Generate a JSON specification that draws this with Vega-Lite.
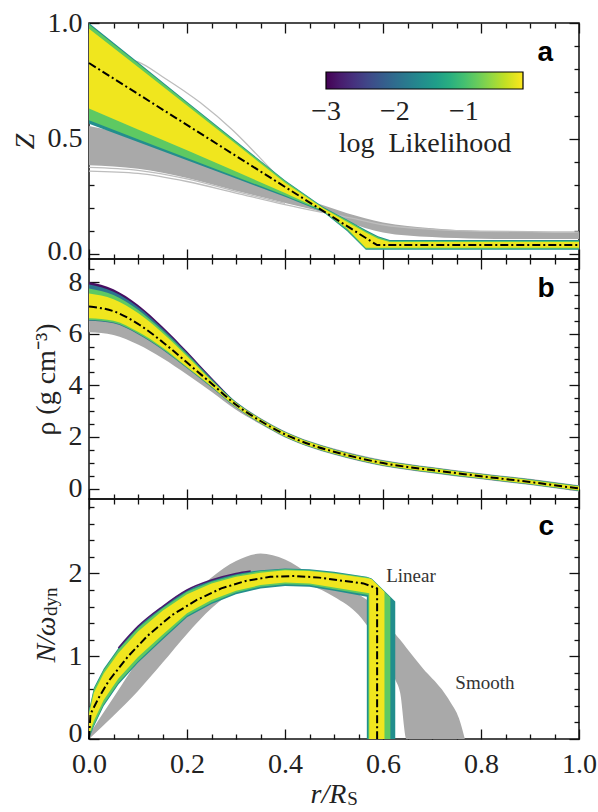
{
"$schema": "https://vega.github.io/schema/vega-lite/v6.json",
"padding": {"top": 8, "left": 10, "right": 10, "bottom": 2},
"bounds": "flush",
"spacing": 0,
"resolve": {"scale": {"color": "independent"}, "legend": {"color": "independent"}},
"config": {
  "view": {"stroke": "#111", "strokeWidth": 1.5},
  "axis": {"domain": false, "grid": false, "tickColor": "#111", "tickWidth": 1.3, "labelFont": "Liberation Serif", "labelFontSize": 28, "labelColor": "#222", "titleFont": "Liberation Serif", "titleFontSize": 28, "titleFontWeight": "normal", "titleColor": "#222", "labelFlush": false, "labelOverlap": false},
  "legend": {"labelFont": "Liberation Serif", "labelFontSize": 28, "labelColor": "#222", "titleFont": "Liberation Serif", "titleFontSize": 28, "titleFontWeight": "normal", "titleColor": "#222"}
},
"datasets": {
  "aGray": [
    {"r":0,"lo":0.385,"hi":0.555},{"r":0.1,"lo":0.37,"hi":0.505},{"r":0.2,"lo":0.33,"hi":0.435},{"r":0.3,"lo":0.275,"hi":0.355},{"r":0.4,"lo":0.222,"hi":0.27},{"r":0.478,"lo":0.18,"hi":0.212},{"r":0.527,"lo":0.14,"hi":0.178},{"r":0.6,"lo":0.095,"hi":0.138},{"r":0.7,"lo":0.075,"hi":0.113},{"r":0.8,"lo":0.068,"hi":0.101},{"r":0.9,"lo":0.066,"hi":0.097},{"r":1,"lo":0.066,"hi":0.096}
  ],
  "aLines": [
    {"k":"L1","r":0,"v":0.36},{"k":"L1","r":0.1,"v":0.35},{"k":"L1","r":0.2,"v":0.315},{"k":"L1","r":0.3,"v":0.265},{"k":"L1","r":0.4,"v":0.215},{"k":"L1","r":0.478,"v":0.18},
    {"k":"L2","r":0,"v":0.376},{"k":"L2","r":0.1,"v":0.363},{"k":"L2","r":0.2,"v":0.326},{"k":"L2","r":0.3,"v":0.272},{"k":"L2","r":0.4,"v":0.22},
    {"k":"U","r":0,"v":0.87},{"k":"U","r":0.1,"v":0.832},{"k":"U","r":0.15,"v":0.768},{"k":"U","r":0.227,"v":0.656},{"k":"U","r":0.294,"v":0.535},{"k":"U","r":0.35,"v":0.415},{"k":"U","r":0.4,"v":0.305},{"k":"U","r":0.45,"v":0.225},{"k":"U","r":0.5,"v":0.175},{"k":"U","r":0.55,"v":0.15},{"k":"U","r":0.6,"v":0.128},{"k":"U","r":0.7,"v":0.108},{"k":"U","r":0.8,"v":0.1},{"k":"U","r":1,"v":0.097}
  ],
  "aBand": [
    {"ll":-1.6,"r":0,"lo":0.565,"hi":1.0},{"ll":-1.6,"r":0.1,"lo":0.486,"hi":0.83},{"ll":-1.6,"r":0.2,"lo":0.407,"hi":0.66},{"ll":-1.6,"r":0.3,"lo":0.328,"hi":0.49},{"ll":-1.6,"r":0.4,"lo":0.249,"hi":0.32},{"ll":-1.6,"r":0.478,"lo":0.183,"hi":0.205},{"ll":-1.6,"r":0.527,"lo":0.1,"hi":0.15},{"ll":-1.6,"r":0.565,"lo":0.02,"hi":0.105},{"ll":-1.6,"r":0.59,"lo":0.02,"hi":0.078},{"ll":-1.6,"r":0.614,"lo":0.02,"hi":0.062},{"ll":-1.6,"r":1,"lo":0.02,"hi":0.062},
    {"ll":-0.85,"r":0,"lo":0.58,"hi":0.994},{"ll":-0.85,"r":0.1,"lo":0.498,"hi":0.825},{"ll":-0.85,"r":0.2,"lo":0.417,"hi":0.655},{"ll":-0.85,"r":0.3,"lo":0.336,"hi":0.486},{"ll":-0.85,"r":0.4,"lo":0.254,"hi":0.317},{"ll":-0.85,"r":0.478,"lo":0.186,"hi":0.202},{"ll":-0.85,"r":0.527,"lo":0.105,"hi":0.146},{"ll":-0.85,"r":0.565,"lo":0.024,"hi":0.1},{"ll":-0.85,"r":0.59,"lo":0.024,"hi":0.074},{"ll":-0.85,"r":0.614,"lo":0.024,"hi":0.058},{"ll":-0.85,"r":1,"lo":0.024,"hi":0.058},
    {"ll":-0.2,"r":0,"lo":0.63,"hi":0.975},{"ll":-0.2,"r":0.1,"lo":0.54,"hi":0.81},{"ll":-0.2,"r":0.2,"lo":0.45,"hi":0.643},{"ll":-0.2,"r":0.3,"lo":0.358,"hi":0.477},{"ll":-0.2,"r":0.4,"lo":0.265,"hi":0.31},{"ll":-0.2,"r":0.478,"lo":0.19,"hi":0.199},{"ll":-0.2,"r":0.527,"lo":0.112,"hi":0.14},{"ll":-0.2,"r":0.565,"lo":0.029,"hi":0.094},{"ll":-0.2,"r":0.59,"lo":0.029,"hi":0.068},{"ll":-0.2,"r":0.614,"lo":0.029,"hi":0.053},{"ll":-0.2,"r":1,"lo":0.029,"hi":0.053}
  ],
  "aMed": [{"r":0,"v":0.827},{"r":0.588,"v":0.04},{"r":1,"v":0.04}],
  "bGray": [
    {"r":0,"lo":6.05,"hi":6.6},{"r":0.05,"lo":5.95,"hi":6.5},{"r":0.1,"lo":5.58,"hi":6.1},{"r":0.15,"lo":5.05,"hi":5.5},{"r":0.2,"lo":4.42,"hi":4.8},{"r":0.25,"lo":3.75,"hi":4.05},{"r":0.3,"lo":3.05,"hi":3.35},{"r":0.35,"lo":2.49,"hi":2.74},{"r":0.4,"lo":1.98,"hi":2.22},{"r":0.5,"lo":1.31,"hi":1.55},{"r":0.6,"lo":0.87,"hi":1.11},{"r":0.7,"lo":0.6,"hi":0.84},{"r":0.8,"lo":0.36,"hi":0.6},{"r":0.9,"lo":0.14,"hi":0.38},{"r":1,"lo":-0.11,"hi":0.13}
  ],
  "bBand": [
    {"ll":-2.9,"r":0,"lo":7.05,"hi":8.0},{"ll":-2.9,"r":0.05,"lo":6.87,"hi":7.72},{"ll":-2.9,"r":0.1,"lo":6.38,"hi":7.12},{"ll":-2.9,"r":0.15,"lo":5.68,"hi":6.28},{"ll":-2.9,"r":0.2,"lo":4.88,"hi":5.32},{"ll":-2.9,"r":0.25,"lo":4.07,"hi":4.3},{"ll":-2.9,"r":0.3,"lo":3.25,"hi":3.33},
    {"ll":-1.9,"r":0,"lo":6.5,"hi":7.9},{"ll":-1.9,"r":0.05,"lo":6.4,"hi":7.62},{"ll":-1.9,"r":0.1,"lo":5.98,"hi":7.03},{"ll":-1.9,"r":0.15,"lo":5.38,"hi":6.2},{"ll":-1.9,"r":0.2,"lo":4.66,"hi":5.26},{"ll":-1.9,"r":0.25,"lo":3.92,"hi":4.26},{"ll":-1.9,"r":0.3,"lo":3.14,"hi":3.36},{"ll":-1.9,"r":0.35,"lo":2.52,"hi":2.72},{"ll":-1.9,"r":0.4,"lo":2.0,"hi":2.2},{"ll":-1.9,"r":0.5,"lo":1.33,"hi":1.53},{"ll":-1.9,"r":0.6,"lo":0.89,"hi":1.09},{"ll":-1.9,"r":0.7,"lo":0.62,"hi":0.82},{"ll":-1.9,"r":0.8,"lo":0.38,"hi":0.58},{"ll":-1.9,"r":0.9,"lo":0.16,"hi":0.36},{"ll":-1.9,"r":1,"lo":-0.09,"hi":0.11},
    {"ll":-0.85,"r":0,"lo":6.53,"hi":7.75},{"ll":-0.85,"r":0.05,"lo":6.43,"hi":7.5},{"ll":-0.85,"r":0.1,"lo":6.01,"hi":6.93},{"ll":-0.85,"r":0.15,"lo":5.41,"hi":6.12},{"ll":-0.85,"r":0.2,"lo":4.68,"hi":5.2},{"ll":-0.85,"r":0.25,"lo":3.94,"hi":4.22},{"ll":-0.85,"r":0.3,"lo":3.15,"hi":3.34},{"ll":-0.85,"r":0.35,"lo":2.53,"hi":2.71},{"ll":-0.85,"r":0.4,"lo":2.01,"hi":2.19},{"ll":-0.85,"r":0.5,"lo":1.34,"hi":1.52},{"ll":-0.85,"r":0.6,"lo":0.9,"hi":1.08},{"ll":-0.85,"r":0.7,"lo":0.63,"hi":0.81},{"ll":-0.85,"r":0.8,"lo":0.39,"hi":0.57},{"ll":-0.85,"r":0.9,"lo":0.17,"hi":0.35},{"ll":-0.85,"r":1,"lo":-0.08,"hi":0.1},
    {"ll":-0.2,"r":0,"lo":6.6,"hi":7.55},{"ll":-0.2,"r":0.05,"lo":6.5,"hi":7.33},{"ll":-0.2,"r":0.1,"lo":6.07,"hi":6.8},{"ll":-0.2,"r":0.15,"lo":5.46,"hi":6.03},{"ll":-0.2,"r":0.2,"lo":4.71,"hi":5.13},{"ll":-0.2,"r":0.25,"lo":3.96,"hi":4.18},{"ll":-0.2,"r":0.3,"lo":3.17,"hi":3.32},{"ll":-0.2,"r":0.35,"lo":2.55,"hi":2.69},{"ll":-0.2,"r":0.4,"lo":2.03,"hi":2.17},{"ll":-0.2,"r":0.5,"lo":1.36,"hi":1.5},{"ll":-0.2,"r":0.6,"lo":0.92,"hi":1.06},{"ll":-0.2,"r":0.7,"lo":0.65,"hi":0.79},{"ll":-0.2,"r":0.8,"lo":0.41,"hi":0.55},{"ll":-0.2,"r":0.9,"lo":0.19,"hi":0.33},{"ll":-0.2,"r":1,"lo":-0.06,"hi":0.08}
  ],
  "bMed": [
    {"r":0,"v":7.05},{"r":0.05,"v":6.87},{"r":0.1,"v":6.38},{"r":0.15,"v":5.68},{"r":0.2,"v":4.88},{"r":0.25,"v":4.07},{"r":0.3,"v":3.25},{"r":0.35,"v":2.62},{"r":0.4,"v":2.1},{"r":0.45,"v":1.72},{"r":0.5,"v":1.43},{"r":0.55,"v":1.19},{"r":0.6,"v":0.99},{"r":0.65,"v":0.84},{"r":0.7,"v":0.72},{"r":0.75,"v":0.6},{"r":0.8,"v":0.48},{"r":0.85,"v":0.37},{"r":0.9,"v":0.26},{"r":0.95,"v":0.13},{"r":1,"v":0.01}
  ],
  "cGray": [
    {"r":0,"lo":0,"hi":0.05},{"r":0.05,"lo":0.28,"hi":0.5},{"r":0.1,"lo":0.58,"hi":0.95},{"r":0.15,"lo":0.92,"hi":1.35},{"r":0.2,"lo":1.27,"hi":1.68},{"r":0.25,"lo":1.58,"hi":1.95},{"r":0.3,"lo":1.8,"hi":2.15},{"r":0.35,"lo":1.92,"hi":2.24},{"r":0.4,"lo":1.95,"hi":2.17},{"r":0.45,"lo":1.86,"hi":2.0},{"r":0.5,"lo":1.72,"hi":1.88},{"r":0.55,"lo":1.5,"hi":1.75},{"r":0.6,"lo":1.05,"hi":1.5},{"r":0.625,"lo":0.72,"hi":1.27},{"r":0.635,"lo":0.56,"hi":1.2},{"r":0.648,"lo":0,"hi":1.1},{"r":0.682,"lo":0,"hi":0.85},{"r":0.72,"lo":0,"hi":0.6},{"r":0.737,"lo":0,"hi":0.45},{"r":0.755,"lo":0,"hi":0.25},{"r":0.767,"lo":0,"hi":0}
  ],
  "cBand": [
    {"ll":-1.6,"r":0,"lo":0,"hi":0.35},{"ll":-1.6,"r":0.01,"lo":0.15,"hi":0.62},{"ll":-1.6,"r":0.03,"lo":0.4,"hi":0.85},{"ll":-1.6,"r":0.06,"lo":0.66,"hi":1.1},{"ll":-1.6,"r":0.1,"lo":0.92,"hi":1.36},{"ll":-1.6,"r":0.15,"lo":1.2,"hi":1.6},{"ll":-1.6,"r":0.2,"lo":1.47,"hi":1.8},{"ll":-1.6,"r":0.25,"lo":1.63,"hi":1.92},{"ll":-1.6,"r":0.3,"lo":1.75,"hi":2.0},{"ll":-1.6,"r":0.35,"lo":1.82,"hi":2.04},{"ll":-1.6,"r":0.4,"lo":1.85,"hi":2.06},{"ll":-1.6,"r":0.45,"lo":1.84,"hi":2.05},{"ll":-1.6,"r":0.5,"lo":1.79,"hi":2.02},{"ll":-1.6,"r":0.567,"lo":1.72,"hi":1.96},{"ll":-1.6,"r":0.567,"lo":0,"hi":1.96},{"ll":-1.6,"r":0.577,"lo":0,"hi":1.94},{"ll":-1.6,"r":0.625,"lo":0,"hi":1.66},
    {"ll":-0.85,"r":0,"lo":0.02,"hi":0.33},{"ll":-0.85,"r":0.01,"lo":0.17,"hi":0.6},{"ll":-0.85,"r":0.03,"lo":0.42,"hi":0.83},{"ll":-0.85,"r":0.06,"lo":0.68,"hi":1.08},{"ll":-0.85,"r":0.1,"lo":0.94,"hi":1.34},{"ll":-0.85,"r":0.15,"lo":1.22,"hi":1.58},{"ll":-0.85,"r":0.2,"lo":1.49,"hi":1.78},{"ll":-0.85,"r":0.25,"lo":1.65,"hi":1.9},{"ll":-0.85,"r":0.3,"lo":1.77,"hi":1.98},{"ll":-0.85,"r":0.35,"lo":1.84,"hi":2.03},{"ll":-0.85,"r":0.4,"lo":1.87,"hi":2.05},{"ll":-0.85,"r":0.45,"lo":1.86,"hi":2.04},{"ll":-0.85,"r":0.5,"lo":1.81,"hi":2.01},{"ll":-0.85,"r":0.57,"lo":1.74,"hi":1.95},{"ll":-0.85,"r":0.57,"lo":0,"hi":1.95},{"ll":-0.85,"r":0.577,"lo":0,"hi":1.93},{"ll":-0.85,"r":0.615,"lo":0,"hi":1.71},
    {"ll":-0.2,"r":0,"lo":0.05,"hi":0.3},{"ll":-0.2,"r":0.01,"lo":0.22,"hi":0.56},{"ll":-0.2,"r":0.03,"lo":0.47,"hi":0.79},{"ll":-0.2,"r":0.06,"lo":0.73,"hi":1.04},{"ll":-0.2,"r":0.1,"lo":0.99,"hi":1.3},{"ll":-0.2,"r":0.15,"lo":1.26,"hi":1.55},{"ll":-0.2,"r":0.2,"lo":1.52,"hi":1.75},{"ll":-0.2,"r":0.25,"lo":1.68,"hi":1.88},{"ll":-0.2,"r":0.3,"lo":1.79,"hi":1.96},{"ll":-0.2,"r":0.35,"lo":1.86,"hi":2.01},{"ll":-0.2,"r":0.4,"lo":1.89,"hi":2.04},{"ll":-0.2,"r":0.45,"lo":1.88,"hi":2.03},{"ll":-0.2,"r":0.5,"lo":1.83,"hi":2.0},{"ll":-0.2,"r":0.572,"lo":1.76,"hi":1.94},{"ll":-0.2,"r":0.572,"lo":0,"hi":1.94},{"ll":-0.2,"r":0.577,"lo":0,"hi":1.93},{"ll":-0.2,"r":0.603,"lo":0,"hi":1.78}
  ],
  "cEdge": [
    {"ll":-2.8,"r":0.06,"v":1.1},{"ll":-2.8,"r":0.1,"v":1.36},{"ll":-2.8,"r":0.15,"v":1.6},{"ll":-2.8,"r":0.2,"v":1.8},{"ll":-2.8,"r":0.25,"v":1.92},{"ll":-2.8,"r":0.3,"v":2.0},{"ll":-2.8,"r":0.33,"v":2.03}
  ],
  "cMed": [
    {"r":0,"v":0.0},{"r":0.003,"v":0.3},{"r":0.02,"v":0.5},{"r":0.04,"v":0.7},{"r":0.08,"v":1.0},{"r":0.12,"v":1.25},{"r":0.17,"v":1.5},{"r":0.22,"v":1.68},{"r":0.27,"v":1.82},{"r":0.32,"v":1.91},{"r":0.37,"v":1.96},{"r":0.42,"v":1.97},{"r":0.47,"v":1.95},{"r":0.52,"v":1.91},{"r":0.56,"v":1.88},{"r":0.588,"v":1.82},{"r":0.588,"v":0}
  ],
  "cNotes": [
    {"r":0.657,"v":1.9,"t":"Linear"},{"r":0.808,"v":0.6,"t":"Smooth"}
  ]
},
"vconcat": [
{
  "width": 490, "height": 236,
  "resolve": {"axis": {"x": "independent", "y": "independent"}},
  "layer": [
    {"data": {"name": "aGray"}, "mark": {"type": "area", "color": "#a9a9a9", "interpolate": "monotone"},
     "encoding": {
       "x": {"field": "r", "type": "quantitative", "scale": {"domain": [0, 1], "nice": false, "zero": false}, "axis": {"orient": "bottom", "values": [0, 0.2, 0.4, 0.6, 0.8, 1], "tickSize": -10, "labels": false, "title": null}},
       "y": {"field": "hi", "type": "quantitative", "stack": null, "scale": {"domain": [-0.02, 1], "nice": false, "zero": false}, "axis": {"orient": "left", "values": [0, 0.5, 1], "format": ".1f", "tickSize": -10, "labelPadding": 17, "labelOffset": {"condition": {"test": "datum.value === 0", "value": -3}, "value": 0}, "title": "Z", "titleFontStyle": "italic", "titlePadding": 8}},
       "y2": {"field": "lo"}}},
    {"data": {"name": "aLines"}, "mark": {"type": "line", "color": "#bdbdbd", "strokeWidth": 1.3, "interpolate": "monotone"},
     "encoding": {"x": {"field": "r", "type": "quantitative", "axis": null}, "y": {"field": "v", "type": "quantitative", "axis": null}, "detail": {"field": "k"}}},
    {"data": {"name": "aBand"}, "mark": {"type": "area"},
     "encoding": {
       "x": {"field": "r", "type": "quantitative", "axis": {"orient": "bottom", "values": [0.05,0.1,0.15,0.25,0.3,0.35,0.45,0.5,0.55,0.65,0.7,0.75,0.85,0.9,0.95], "tickSize": -5, "labels": false, "title": null}},
       "y": {"field": "hi", "type": "quantitative", "stack": null, "axis": {"orient": "left", "values": [0.1,0.2,0.3,0.4,0.6,0.7,0.8,0.9], "tickSize": -5, "labels": false, "title": null}},
       "y2": {"field": "lo"},
       "color": {"field": "ll", "type": "quantitative", "scale": {"scheme": "viridis", "domain": [-3.001, -0.14], "nice": false},
         "legend": {"orient": "none", "legendX": 237, "legendY": 49, "direction": "horizontal", "gradientLength": 197, "gradientThickness": 17, "values": [-3, -2, -1], "title": "log\u00a0\u00a0Likelihood", "titleOrient": "bottom", "titleAnchor": "middle", "titleAlign": "center", "labelAlign": "center", "gradientStrokeColor": "#000", "gradientStrokeWidth": 1.2, "labelOffset": 9, "titlePadding": 4, "padding": 0}}}},
    {"data": {"name": "aMed"}, "mark": {"type": "line", "color": "#000", "strokeWidth": 2, "strokeDash": [8, 3, 2, 3]},
     "encoding": {
       "x": {"field": "r", "type": "quantitative", "axis": {"orient": "top", "values": [0, 0.2, 0.4, 0.6, 0.8, 1], "tickSize": -10, "labels": false, "title": null}},
       "y": {"field": "v", "type": "quantitative", "axis": {"orient": "right", "values": [0, 0.5, 1], "tickSize": -10, "labels": false, "title": null}}}},
    {"data": {"values": [{"r": 0.931, "v": 0.836, "t": "a"}]}, "mark": {"type": "text", "font": "Liberation Sans", "fontWeight": "bold", "fontSize": 28, "baseline": "alphabetic", "align": "center", "color": "#000"},
     "encoding": {
       "x": {"field": "r", "type": "quantitative", "axis": {"orient": "top", "values": [0.05,0.1,0.15,0.25,0.3,0.35,0.45,0.5,0.55,0.65,0.7,0.75,0.85,0.9,0.95], "tickSize": -5, "labels": false, "title": null}},
       "y": {"field": "v", "type": "quantitative", "axis": {"orient": "right", "values": [0.1,0.2,0.3,0.4,0.6,0.7,0.8,0.9], "tickSize": -5, "labels": false, "title": null}},
       "text": {"field": "t"}}}
  ]
},
{
  "width": 490, "height": 240,
  "resolve": {"axis": {"x": "independent", "y": "independent"}},
  "layer": [
    {"data": {"name": "bGray"}, "mark": {"type": "area", "color": "#a9a9a9", "interpolate": "monotone"},
     "encoding": {
       "x": {"field": "r", "type": "quantitative", "scale": {"domain": [0, 1], "nice": false, "zero": false}, "axis": {"orient": "bottom", "values": [0, 0.2, 0.4, 0.6, 0.8, 1], "tickSize": -10, "labels": false, "title": null}},
       "y": {"field": "hi", "type": "quantitative", "stack": null, "scale": {"domain": [-0.4, 8.89], "nice": false, "zero": false}, "axis": {"orient": "left", "values": [0, 2, 4, 6, 8], "format": "d", "tickSize": -10, "labelPadding": 17, "labelOffset": {"condition": {"test": "datum.value === 8", "value": 1}, "value": 0}, "title": "ρ (g cm⁻³)", "titlePadding": 8}},
       "y2": {"field": "lo"}}},
    {"data": {"name": "bBand"}, "mark": {"type": "area", "interpolate": "monotone"},
     "encoding": {
       "x": {"field": "r", "type": "quantitative", "axis": {"orient": "bottom", "values": [0.05,0.1,0.15,0.25,0.3,0.35,0.45,0.5,0.55,0.65,0.7,0.75,0.85,0.9,0.95], "tickSize": -5, "labels": false, "title": null}},
       "y": {"field": "hi", "type": "quantitative", "stack": null, "axis": {"orient": "left", "values": [0.5,1,1.5,2.5,3,3.5,4.5,5,5.5,6.5,7,7.5,8.5], "tickSize": -5, "labels": false, "title": null}},
       "y2": {"field": "lo"},
       "color": {"field": "ll", "type": "quantitative", "scale": {"scheme": "viridis", "domain": [-3.001, -0.14], "nice": false}, "legend": null}}},
    {"data": {"name": "bMed"}, "mark": {"type": "line", "color": "#000", "strokeWidth": 2, "strokeDash": [8, 3, 2, 3], "interpolate": "monotone"},
     "encoding": {
       "x": {"field": "r", "type": "quantitative", "axis": {"orient": "top", "values": [0, 0.2, 0.4, 0.6, 0.8, 1], "tickSize": -10, "labels": false, "title": null}},
       "y": {"field": "v", "type": "quantitative", "axis": {"orient": "right", "values": [0, 2, 4, 6, 8], "tickSize": -10, "labels": false, "title": null}}}},
    {"data": {"values": [{"r": 0.933, "v": 7.42, "t": "b"}]}, "mark": {"type": "text", "font": "Liberation Sans", "fontWeight": "bold", "fontSize": 28, "baseline": "alphabetic", "align": "center", "color": "#000"},
     "encoding": {
       "x": {"field": "r", "type": "quantitative", "axis": {"orient": "top", "values": [0.05,0.1,0.15,0.25,0.3,0.35,0.45,0.5,0.55,0.65,0.7,0.75,0.85,0.9,0.95], "tickSize": -5, "labels": false, "title": null}},
       "y": {"field": "v", "type": "quantitative", "axis": {"orient": "right", "values": [0.5,1,1.5,2.5,3,3.5,4.5,5,5.5,6.5,7,7.5,8.5], "tickSize": -5, "labels": false, "title": null}},
       "text": {"field": "t"}}}
  ]
},
{
  "width": 490, "height": 240,
  "resolve": {"axis": {"x": "independent", "y": "independent"}},
  "layer": [
    {"data": {"name": "cGray"}, "mark": {"type": "area", "color": "#a9a9a9", "interpolate": "monotone"},
     "encoding": {
       "x": {"field": "r", "type": "quantitative", "scale": {"domain": [0, 1], "nice": false, "zero": false}, "axis": {"orient": "bottom", "values": [0, 0.2, 0.4, 0.6, 0.8, 1], "format": ".1f", "tickSize": -10, "labelPadding": 21, "title": "r/R", "titleFontStyle": "italic", "titleX": 239, "titlePadding": 2}},
       "y": {"field": "hi", "type": "quantitative", "stack": null, "scale": {"domain": [0, 2.9], "nice": false, "zero": false}, "axis": {"orient": "left", "values": [0, 1, 2], "format": "d", "tickSize": -10, "labelPadding": 17, "labelOffset": {"condition": {"test": "datum.value === 0", "value": -6}, "value": 0}, "title": "N/ω", "titleFontStyle": "italic", "titlePadding": 8, "titleY": 140}},
       "y2": {"field": "lo"}}},
    {"data": {"name": "cBand"}, "mark": {"type": "area"},
     "encoding": {
       "x": {"field": "r", "type": "quantitative", "axis": {"orient": "bottom", "values": [0.05,0.1,0.15,0.25,0.3,0.35,0.45,0.5,0.55,0.65,0.7,0.75,0.85,0.9,0.95], "tickSize": -5, "labels": false, "title": null}},
       "y": {"field": "hi", "type": "quantitative", "stack": null, "axis": {"orient": "left", "values": [0.2,0.4,0.6,0.8,1.2,1.4,1.6,1.8,2.2,2.4,2.6,2.8], "tickSize": -5, "labels": false, "title": null}},
       "y2": {"field": "lo"},
       "color": {"field": "ll", "type": "quantitative", "scale": {"scheme": "viridis", "domain": [-3.001, -0.14], "nice": false}, "legend": null}}},
    {"data": {"name": "cEdge"}, "mark": {"type": "line", "strokeWidth": 1.6, "interpolate": "monotone"},
     "encoding": {"x": {"field": "r", "type": "quantitative", "axis": null}, "y": {"field": "v", "type": "quantitative", "axis": null},
       "color": {"field": "ll", "type": "quantitative", "legend": null}}},
    {"data": {"name": "cMed"}, "mark": {"type": "line", "color": "#000", "strokeWidth": 2, "strokeDash": [8, 3, 2, 3]},
     "encoding": {
       "x": {"field": "r", "type": "quantitative", "axis": {"orient": "top", "values": [0, 0.2, 0.4, 0.6, 0.8, 1], "tickSize": -10, "labels": false, "title": null}},
       "y": {"field": "v", "type": "quantitative", "axis": {"orient": "right", "values": [0, 1, 2], "tickSize": -10, "labels": false, "title": null}}}},
    {"data": {"values": [{"r": 0.933, "v": 2.47, "t": "c"}]}, "mark": {"type": "text", "font": "Liberation Sans", "fontWeight": "bold", "fontSize": 28, "baseline": "alphabetic", "align": "center", "color": "#000"},
     "encoding": {
       "x": {"field": "r", "type": "quantitative", "axis": {"orient": "top", "values": [0.05,0.1,0.15,0.25,0.3,0.35,0.45,0.5,0.55,0.65,0.7,0.75,0.85,0.9,0.95], "tickSize": -5, "labels": false, "title": null}},
       "y": {"field": "v", "type": "quantitative", "axis": {"orient": "right", "values": [0.2,0.4,0.6,0.8,1.2,1.4,1.6,1.8,2.2,2.4,2.6,2.8], "tickSize": -5, "labels": false, "title": null}},
       "text": {"field": "t"}}},
    {"data": {"name": "cNotes"}, "mark": {"type": "text", "font": "Liberation Serif", "fontSize": 19, "baseline": "alphabetic", "align": "center", "color": "#333"},
     "encoding": {"x": {"field": "r", "type": "quantitative", "axis": null}, "y": {"field": "v", "type": "quantitative", "axis": null}, "text": {"field": "t"}}},
    {"data": {"values": [{"r": -0.065, "v": 1.487, "t": "dyn"}]}, "mark": {"type": "text", "font": "Liberation Serif", "fontSize": 19, "baseline": "alphabetic", "align": "left", "angle": 270, "color": "#222"},
     "encoding": {"x": {"field": "r", "type": "quantitative", "axis": null}, "y": {"field": "v", "type": "quantitative", "axis": null}, "text": {"field": "t"}}},
    {"data": {"values": [{"r": 0.527, "v": -0.8, "t": "S"}]}, "mark": {"type": "text", "font": "Liberation Serif", "fontSize": 19, "baseline": "alphabetic", "align": "left", "color": "#222"},
     "encoding": {"x": {"field": "r", "type": "quantitative", "axis": null}, "y": {"field": "v", "type": "quantitative", "axis": null}, "text": {"field": "t"}}}
  ]
}
]
}
